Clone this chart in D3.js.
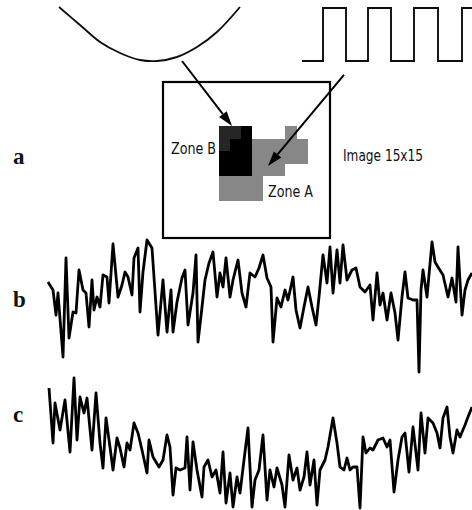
<!DOCTYPE html>
<html>
<head>
<meta charset="utf-8">
<script src="https://cdn.jsdelivr.net/npm/d3@7"></script>
<style>
html,body{margin:0;padding:0;background:#fff;}
svg{display:block;}
</style>
</head>
<body>
<svg id="chart" width="472" height="510"></svg>
<script>
// ---------- DATA ----------
// panel a: parabola-like modulation curve (time, depth)
const curveA = [[0,0],[21,18],[41,35],[61,46],[81,53],[98,54],[118,50],[138,40],[158,25],[181,0]];
// panel a: square wave (edge times and levels)
const squareEdges = [0,21,44,66,89,112,136,160,170];
const squareLevels = [0,1,0,1,0,1,0,1,1];
// panel a: 15x15 image cells [col,row,shade]
const cellsZoneB = [[5,4,0.85],[6,4,0.85],[7,4,1],[5,5,0.85],[6,5,1],[7,5,1],
  [5,6,1],[6,6,1],[7,6,1],[5,7,1],[6,7,1],[7,7,1]];
const cellsZoneA = [[5,8,0.47],[6,8,0.47],[7,8,0.47],[8,8,0.47],[5,9,0.47],[6,9,0.47],[7,9,0.47],[8,9,0.47],
  [8,5,0.47],[9,5,0.47],[10,5,0.47],[8,6,0.47],[9,6,0.47],[10,6,0.47],[8,7,0.47],[9,7,0.47],[10,7,0.47],
  [11,5,0.47],[12,5,0.47],[11,6,0.47],[12,6,0.47],[11,4,0.47]];
const textLabels = ["a","b","c"];
// panel b signal [time, value]
const signalB = [[0,13],[5,5],[8,-20],[10,2],[15,-62],[18,37],[21,-43],[25,-17],[28,-18],[31,25],[35,5],[38,2],[41,-32],[44,15],[46,-15],[49,-2],[52,-12],[55,20],[59,18],[61,-8],[65,51],[70,-2],[74,10],[77,23],[80,18],[84,0],[86,37],[90,47],[92,-17],[95,23],[99,55],[104,47],[110,-40],[115,15],[119,-37],[123,5],[125,-37],[129,-7],[134,17],[137,25],[140,-30],[145,2],[148,40],[150,-47],[154,-12],[157,15],[161,32],[165,43],[169,-2],[172,22],[175,8],[178,37],[182,-2],[185,15],[190,35],[194,2],[198,-12],[202,22],[207,18],[211,27],[215,40],[219,17],[223,8],[225,-47],[229,-3],[233,-12],[237,5],[240,-5],[245,18],[248,-15],[252,-33],[256,-12],[260,8],[264,-12],[268,-30],[271,-2],[275,40],[279,12],[282,48],[285,2],[289,45],[292,12],[295,50],[299,15],[304,25],[308,27],[312,8],[317,3],[322,10],[325,-25],[329,22],[332,-10],[335,2],[339,-25],[343,2],[347,-18],[350,-45],[354,-2],[357,23],[360,-3],[365,-5],[369,-5],[371,-77],[373,5],[375,25],[379,-2],[384,53],[387,33],[390,28],[395,20],[400,-2],[404,17],[408,-7],[410,48],[414,-20],[417,5],[420,15],[424,22]];
// panel c signal [time, value]
const signalC = [[1,57],[5,2],[7,42],[12,15],[17,45],[22,-7],[26,67],[29,5],[32,48],[36,32],[39,47],[44,-5],[48,52],[52,2],[55,-23],[58,27],[62,-2],[65,-25],[69,7],[72,-3],[76,-22],[79,2],[82,-5],[86,22],[90,12],[94,-5],[99,-28],[101,5],[105,-12],[111,-22],[115,-15],[119,10],[122,-2],[125,-50],[128,-23],[132,-25],[137,-23],[139,8],[142,-45],[145,3],[149,-25],[154,-52],[156,-22],[160,-15],[164,-32],[168,-25],[172,-48],[175,-7],[178,-58],[182,-28],[185,-62],[189,-32],[192,-48],[196,-15],[200,17],[204,-62],[207,-35],[211,-25],[215,10],[219,-55],[222,-25],[226,-42],[229,-23],[234,-40],[237,-62],[241,-10],[245,-35],[249,-23],[252,-45],[256,-32],[259,-7],[262,-40],[266,-15],[269,-60],[272,-25],[277,-15],[280,-2],[285,27],[289,2],[292,-22],[296,-25],[299,-13],[302,-25],[305,-22],[309,-22],[312,-63],[315,8],[318,-8],[322,-3],[325,-5],[330,5],[335,7],[339,-2],[342,5],[346,-47],[350,-15],[354,8],[357,12],[361,-27],[365,18],[370,-25],[373,32],[377,-8],[380,27],[385,22],[389,12],[392,-3],[395,27],[399,38],[402,8],[405,-8],[409,15],[412,8],[417,20],[420,28],[424,38]];
// arrows: start on the curves (curve units), end on the image grid (col,row)
const arrowFromCurve = {t:123, v:54, col:6.2, row:4.0};
const arrowFromSquare = {t:42, v:-0.26, col:9.43, row:7.2};

// ---------- DRAW ----------
const svg = d3.select("#chart");
const ink = "#000";

const defs = svg.append("defs");
defs.append("filter").attr("id","soft").attr("x","-5%").attr("y","-5%").attr("width","110%").attr("height","110%")
  .append("feGaussianBlur").attr("stdDeviation",0.45);

// scales
const curX = d3.scaleLinear().domain([0,181]).range([59,240]);
const curY = d3.scaleLinear().domain([0,54]).range([7,61]);
const sqX = d3.scaleLinear().domain([0,170]).range([302,472]);
const sqY = d3.scaleLinear().domain([0,1]).range([61,8]);
const gridX = d3.scaleLinear().domain([0,15]).range([163,330]);
const gridY = d3.scaleLinear().domain([0,15]).range([82,238]);
const cellY = d3.scaleLinear().domain([0,15]).range([76,263.5]);
const shade = d3.scaleLinear().domain([0,1]).range(["#ffffff","#000000"]);
const sigX = d3.scaleLinear().domain([0,424]).range([48,472]);
const yB = d3.scaleLinear().domain([-80,80]).range([375,215]);
const yC = d3.scaleLinear().domain([-80,80]).range([525,365]);

const root = svg.append("g").attr("filter","url(#soft)");

// parabola
root.append("path")
  .attr("d", d3.line().x(d=>curX(d[0])).y(d=>curY(d[1])).curve(d3.curveCatmullRom)(curveA))
  .attr("fill","none").attr("stroke","#111").attr("stroke-width",1.9);

// square wave
const sqPts = squareEdges.map((t,i)=>[t,squareLevels[i]]);
root.append("path")
  .attr("d", d3.line().x(d=>sqX(d[0])).y(d=>sqY(d[1])).curve(d3.curveStepAfter)(sqPts))
  .attr("fill","none").attr("stroke","#111").attr("stroke-width",1.9);

// image cells (grey first, dark on top)
const cells = cellsZoneA.concat(cellsZoneB);
root.append("g").attr("shape-rendering","crispEdges").selectAll("rect").data(cells).join("rect")
  .attr("x", d=>Math.round(gridX(d[0]))).attr("y", d=>Math.round(cellY(d[1])))
  .attr("width", d=>Math.round(gridX(d[0]+1))-Math.round(gridX(d[0])))
  .attr("height", d=>Math.round(cellY(d[1]+1))-Math.round(cellY(d[1])))
  .attr("fill", d=>shade(d[2]));

// frame of the image
root.append("rect")
  .attr("x", gridX(0)).attr("y", gridY(0))
  .attr("width", gridX(15)-gridX(0)).attr("height", gridY(15)-gridY(0))
  .attr("fill","none").attr("stroke",ink).attr("stroke-width",2.2);

// arrows
function arrow(x1,y1,x2,y2){
  const ang = Math.atan2(y2-y1,x2-x1);
  const L = 15, W = 4.8;
  const bx = x2 - L*Math.cos(ang), by = y2 - L*Math.sin(ang);
  root.append("line").attr("x1",x1).attr("y1",y1).attr("x2",bx).attr("y2",by)
    .attr("stroke",ink).attr("stroke-width",2);
  const px = -Math.sin(ang)*W, py = Math.cos(ang)*W;
  root.append("path")
    .attr("d",`M${x2},${y2}L${bx+px},${by+py}L${bx-px},${by-py}Z`)
    .attr("fill",ink);
}
arrow(curX(arrowFromCurve.t), curY(arrowFromCurve.v), gridX(arrowFromCurve.col), cellY(arrowFromCurve.row));
arrow(sqX(arrowFromSquare.t), sqY(arrowFromSquare.v), gridX(arrowFromSquare.col), cellY(arrowFromSquare.row));

// zone / image texts
const sansFam = "'DejaVu Sans Condensed','DejaVu Sans',sans-serif";
function stxt(str,x,y,len){
  svg.append("text").attr("x",x).attr("y",y).text(str)
    .attr("font-family",sansFam).attr("font-size",16).attr("fill","#111")
    .attr("textLength",len).attr("lengthAdjust","spacingAndGlyphs");
}
stxt("Zone B",171,154,45);
stxt("Zone A",268,197,45);
stxt("Image 15x15",343,161,80);

// panel labels
const labelY = [164,307,422];
textLabels.forEach((s,i)=>{
  svg.append("text").attr("x",13).attr("y",labelY[i]).text(s)
    .attr("font-family","'Liberation Serif','Times New Roman',serif")
    .attr("font-weight","bold").attr("font-size",23).attr("fill","#111");
});

// signals
const sigLine = (ys)=>d3.line().x(d=>sigX(d[0])).y(d=>ys(d[1]));
root.append("path").attr("d", sigLine(yB)(signalB))
  .attr("fill","none").attr("stroke",ink).attr("stroke-width",2.8).attr("stroke-linejoin","round");
root.append("path").attr("d", sigLine(yC)(signalC))
  .attr("fill","none").attr("stroke",ink).attr("stroke-width",2.8).attr("stroke-linejoin","round");
</script>
</body>
</html>
